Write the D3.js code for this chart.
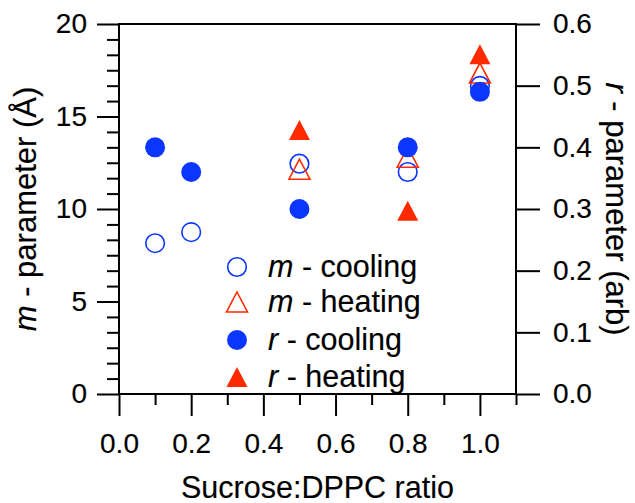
<!DOCTYPE html>
<html><head><meta charset="utf-8">
<script src="https://cdn.jsdelivr.net/npm/d3@7"></script>
<style>
body{margin:0;background:#fff;}
text{font-family:"Liberation Sans",Arial,sans-serif;fill:#000;stroke:#000;stroke-width:0.15px;}
</style></head>
<body><svg id="c" width="635" height="503"></svg>
<script>
const ratios = [0.1, 0.2, 0.5, 0.8, 1.0];
const mCooling = [8.15, 8.75, 12.45, 12.0, 16.65];
const mHeatingX = [0.5, 0.8, 1.0];
const mHeating = [12.15, 12.8, 17.35];
const rCooling = [0.40, 0.36, 0.30, 0.40, 0.49];
const rHeatingX = [0.5, 0.8, 1.0];
const rHeating = [0.428, 0.297, 0.551];
const xTickVals = [0.0, 0.2, 0.4, 0.6, 0.8, 1.0];
const xMinorVals = [0.1, 0.3, 0.5, 0.7, 0.9, 1.1];
const leftTickVals = [0, 5, 10, 15, 20];
const rightTickVals = [0.0, 0.1, 0.2, 0.3, 0.4, 0.5, 0.6];
const legendLabels = [["m", " - cooling"], ["m", " - heating"], ["r", " - cooling"], ["r", " - heating"]];

const blue = "#0a36ff", red = "#ff2a00";
const L = 119, R = 516, T = 24, B = 394;
const svg = d3.select("#c");
const x = d3.scaleLinear().domain([0, 1.1]).range([L, R]);
const yL = d3.scaleLinear().domain([0, 20]).range([B, T]);
const yR = d3.scaleLinear().domain([0, 0.6]).range([B, T]);

function styleAxis(g, fs) {
  g.select(".domain").remove();
  g.selectAll(".tick line").attr("stroke", "#000").attr("stroke-width", 2);
  g.selectAll(".tick text").style("font-size", fs + "px").style("font-family", "'Liberation Sans', Arial, sans-serif").attr("fill", "#000");
}
// x axis
const gx = svg.append("g").attr("transform", `translate(0,${B})`)
  .call(d3.axisBottom(x).tickValues(xTickVals).tickSize(22).tickPadding(17).tickFormat(d3.format(".1f")));
styleAxis(gx, 28);
const gxm = svg.append("g").attr("transform", `translate(0,${B})`)
  .call(d3.axisBottom(x).tickValues(xMinorVals).tickSize(11).tickFormat(""));
styleAxis(gxm, 28);
// left axis
const gl = svg.append("g").attr("transform", `translate(${L},0)`)
  .call(d3.axisLeft(yL).tickValues(leftTickVals).tickSize(22).tickPadding(10));
styleAxis(gl, 28);
const leftMinor = d3.range(0, 25).filter(i => i % 6 !== 0).map(i => i * 5 / 6);
const glm = svg.append("g").attr("transform", `translate(${L},0)`)
  .call(d3.axisLeft(yL).tickValues(leftMinor).tickSize(12).tickFormat(""));
styleAxis(glm, 28);
// right axis
const gr = svg.append("g").attr("transform", `translate(${R},0)`)
  .call(d3.axisRight(yR).tickValues(rightTickVals).tickSize(24).tickPadding(13).tickFormat(d3.format(".1f")));
styleAxis(gr, 28);
// frame
svg.append("rect").attr("x", L).attr("y", T).attr("width", R - L).attr("height", B - T)
  .attr("fill", "none").attr("stroke", "#000").attr("stroke-width", 2);

// titles
svg.append("text").attr("x", (L + R) / 2).attr("y", 498).attr("text-anchor", "middle")
  .style("font-size", "30.5px").text("Sucrose:DPPC ratio");
const lt = svg.append("text").attr("transform", "translate(36,209) rotate(-90)").attr("text-anchor", "middle")
  .style("font-size", "31px");
lt.append("tspan").style("font-style", "italic").text("m");
lt.append("tspan").text(" - parameter (Å)");
const rt = svg.append("text").attr("transform", "translate(606,209) rotate(90)").attr("text-anchor", "middle")
  .style("font-size", "31px");
rt.append("tspan").style("font-style", "italic").text("r");
rt.append("tspan").text(" - parameter (arb)");

// markers
const tri = (cx, cy) => {
  const w = 21, h = 20;
  return `M${cx},${cy - h / 2}L${cx + w / 2},${cy + h / 2}L${cx - w / 2},${cy + h / 2}Z`;
};
const gm = svg.append("g");
gm.selectAll("circle.mc").data(ratios).join("circle")
  .attr("cx", d => x(d)).attr("cy", (d, i) => yL(mCooling[i])).attr("r", 9.3)
  .attr("fill", "none").attr("stroke", blue).attr("stroke-width", 1.6);
gm.selectAll("path.mh").data(mHeatingX).join("path")
  .attr("d", (d, i) => tri(x(d), yL(mHeating[i])))
  .attr("fill", "none").attr("stroke", red).attr("stroke-width", 1.6);
gm.selectAll("circle.rc").data(ratios).join("circle")
  .attr("cx", d => x(d)).attr("cy", (d, i) => yR(rCooling[i])).attr("r", 10)
  .attr("fill", blue);
gm.selectAll("path.rh").data(rHeatingX).join("path")
  .attr("d", (d, i) => tri(x(d), yR(rHeating[i])))
  .attr("fill", red);

// legend
const lg = svg.append("g");
const ly = [267, 302, 340, 377];
legendLabels.forEach((lab, i) => {
  const cx = 237, cy = ly[i];
  if (i === 0) lg.append("circle").attr("cx", cx).attr("cy", cy).attr("r", 9.3).attr("fill", "none").attr("stroke", blue).attr("stroke-width", 1.6);
  if (i === 1) lg.append("path").attr("d", tri(cx, cy)).attr("fill", "none").attr("stroke", red).attr("stroke-width", 1.6);
  if (i === 2) lg.append("circle").attr("cx", cx).attr("cy", cy).attr("r", 10).attr("fill", blue);
  if (i === 3) lg.append("path").attr("d", tri(cx, cy)).attr("fill", red);
  const t = lg.append("text").attr("x", 268).attr("y", cy + 10).style("font-size", "30.5px");
  t.append("tspan").style("font-style", "italic").text(lab[0]);
  t.append("tspan").text(lab[1]);
});
</script></body></html>
